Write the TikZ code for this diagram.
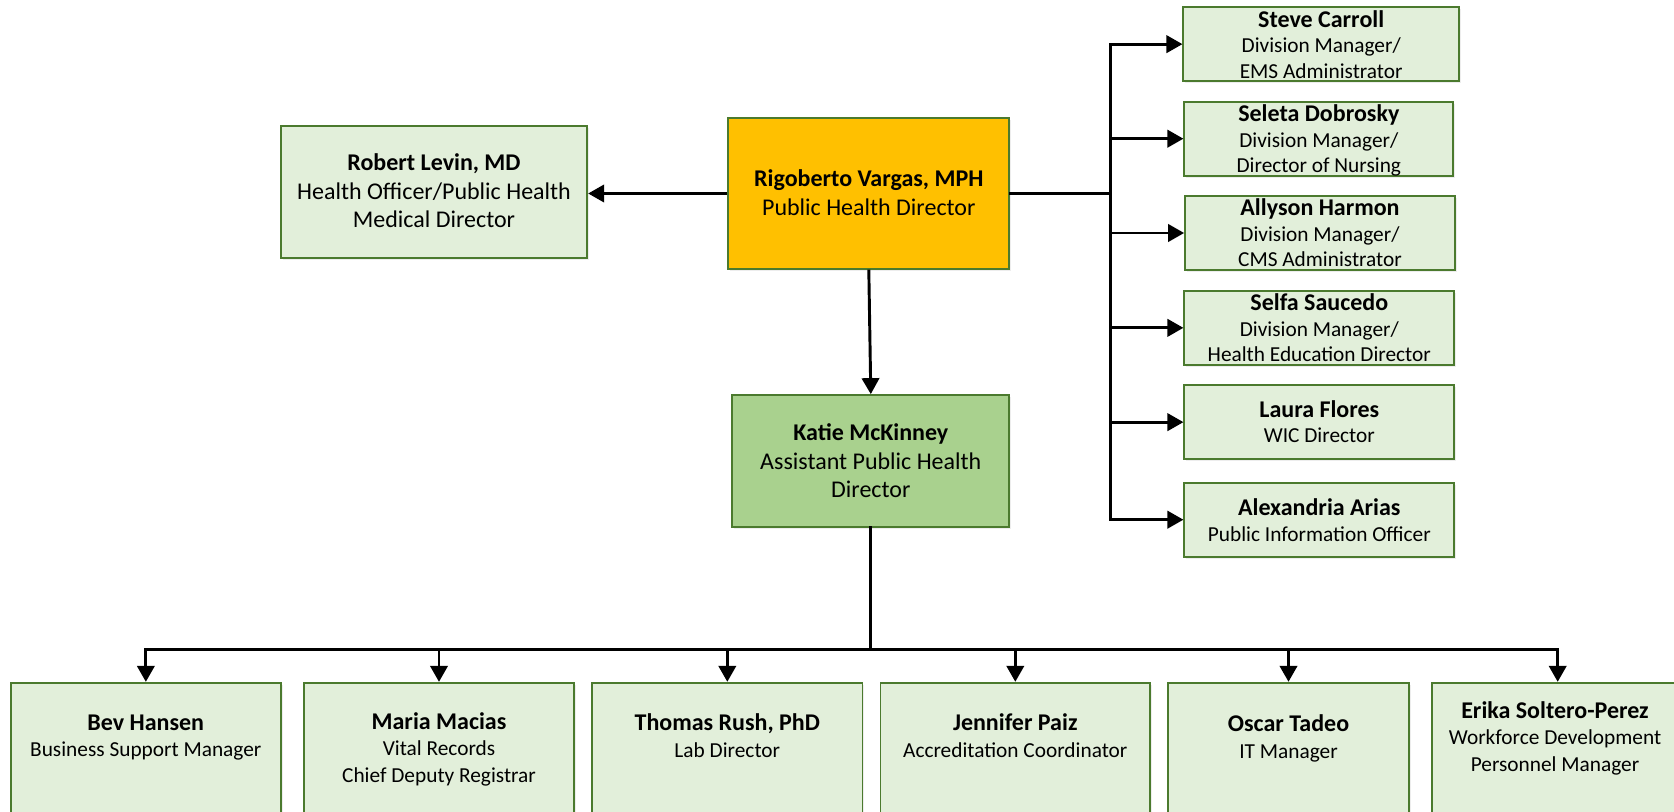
\documentclass[tikz,border=0pt]{standalone}
\usepackage{fontspec}
\setmainfont{Carlito}
\usetikzlibrary{arrows.meta,fit,shadows}
\definecolor{boxfill}{HTML}{E2EFDA}
\definecolor{boxline}{HTML}{4B7A2E}
\definecolor{katiefill}{HTML}{A9D18E}
\definecolor{dirfill}{HTML}{FFC000}
\newcommand\ctrlines[2]{\vtop{\baselineskip=#1\lineskiplimit=-20pt\lineskip=0pt\halign{\hfil##\hfil\cr#2\crcr}}}
\newcommand\nmf{\fontsize{18}{21}\selectfont\bfseries}
\newcommand\stf{\fontsize{16}{19}\selectfont}
\newcommand\mnf{\fontsize{18}{21}\selectfont}
\tikzset{
  box/.style={draw=boxline, line width=1.3pt, fill=boxfill, inner sep=0pt,
    drop shadow={shadow xshift=1.5pt, shadow yshift=-1.5pt, fill=black, opacity=0.07}},
  lbl/.style={inner sep=0pt, anchor=base},
  conn/.style={line width=2.2pt, line cap=rect, black},
  arr/.style={line width=2.2pt, black, -{Triangle[length=12pt,width=13pt]}}
}
\begin{document}
\begin{tikzpicture}[x=0.75pt,y=-0.75pt]
\useasboundingbox (0,0) rectangle (1674,812);
% main boxes
\node[box, fit={(280.7,126) (587.3,257.7)}] (levin) {};
\node[box, fill=dirfill, fit={(728.3,118.3) (1009.3,268.7)}] (vargas) {};
\node[box, fill=katiefill, fit={(732.3,395) (1009.3,526.7)}] (katie) {};
% right column
\node[box, fit={(1183.3,7.3) (1459,81)}] (steve) {};
\node[box, fit={(1184.3,101.7) (1453.3,175.7)}] (seleta) {};
\node[box, fit={(1185,196) (1455,270)}] (allyson) {};
\node[box, fit={(1184.3,290.7) (1454.3,365)}] (selfa) {};
\node[box, fit={(1184.3,385) (1454.3,459.3)}] (laura) {};
\node[box, fit={(1184.3,482.7) (1454.3,556.7)}] (alex) {};
% bottom row
\node[box, fit={(11,682.7) (280.7,840)}] (bev) {};
\node[box, fit={(304,682.7) (574,840)}] (maria) {};
\node[box, fit={(592.2,682.7) (862.4,840)}] (thomas) {};
\node[box, fit={(880.4,682.7) (1150.2,840)}] (jennifer) {};
\node[box, fit={(1167.7,682.7) (1409.3,840)}] (oscar) {};
\node[box, fit={(1431.7,682.7) (1683.7,840)}] (erika) {};
% texts
\node[lbl] (levint) at (434,171) {\ctrlines{21.3pt}{\mnf\bfseries Robert Levin, MD\cr\mnf Health Officer/Public Health\cr\mnf Medical Director}};
\node[lbl] (vargast) at (868.8,187) {\ctrlines{21.3pt}{\mnf\bfseries Rigoberto Vargas, MPH\cr\mnf Public Health Director}};
\node[lbl] (katiet) at (870.8,441) {\ctrlines{21.3pt}{\mnf\bfseries Katie McKinney\cr\mnf Assistant Public Health\cr\mnf Director}};
\node[lbl] (stevet) at (1321.2,27.3) {\ctrlines{19.1pt}{\nmf Steve Carroll\cr\stf Division Manager/\cr\stf EMS Administrator}};
\node[lbl] (seletat) at (1318.8,122) {\ctrlines{19.1pt}{\nmf Seleta Dobrosky\cr\stf Division Manager/\cr\stf Director of Nursing}};
\node[lbl] (allysont) at (1320,216) {\ctrlines{19.1pt}{\nmf Allyson Harmon\cr\stf Division Manager/\cr\stf CMS Administrator}};
\node[lbl] (selfat) at (1319.3,310.7) {\ctrlines{19.1pt}{\nmf Selfa Saucedo\cr\stf Division Manager/\cr\stf Health Education Director}};
\node[lbl] (laurat) at (1319.3,417.4) {\ctrlines{19.1pt}{\nmf Laura Flores\cr\stf WIC Director}};
\node[lbl] (alext) at (1319.3,515.7) {\ctrlines{19.1pt}{\nmf Alexandria Arias\cr\stf Public Information Officer}};
\node[lbl] (bevt) at (145.8,730) {\ctrlines{20pt}{\nmf Bev Hansen\cr\stf Business Support Manager}};
\node[lbl] (mariat) at (439,729) {\ctrlines{20pt}{\nmf Maria Macias\cr\stf Vital Records\cr\stf Chief Deputy Registrar}};
\node[lbl] (thomast) at (727.3,730.7) {\ctrlines{20pt}{\nmf Thomas Rush, PhD\cr\stf Lab Director}};
\node[lbl] (jennifert) at (1015.3,730.7) {\ctrlines{20pt}{\nmf Jennifer Paiz\cr\stf Accreditation Coordinator}};
\node[lbl] (oscart) at (1288.5,731.4) {\ctrlines{20pt}{\nmf Oscar Tadeo\cr\stf IT Manager}};
\node[lbl] (erikat) at (1555,718) {\ctrlines{20pt}{\nmf Erika Soltero-Perez\cr\stf Workforce Development\cr\stf Personnel Manager}};
% connectors
\coordinate (rbus) at (1110.5,0);
\coordinate (bbus) at (0,649.3);
\draw[arr] (vargas.west) -- (vargas.west -| levin.east);
\draw[arr] (vargas.south) -- (katie.north);
\draw[conn] (vargas.east) -- (vargas.east -| rbus);
\draw[conn] (rbus |- steve.west) -- (rbus |- alex.west);
\foreach \n in {steve,seleta,allyson,selfa,laura,alex}
  \draw[arr] (rbus |- \n.west) -- (\n.west);
\draw[conn] (katie.south) -- (katie.south |- bbus);
\draw[conn] (bev.north |- bbus) -- (erika.north |- bbus);
\foreach \n in {bev,maria,thomas,jennifer,oscar,erika}
  \draw[arr] (\n.north |- bbus) -- (\n.north);
\end{tikzpicture}
\end{document}
